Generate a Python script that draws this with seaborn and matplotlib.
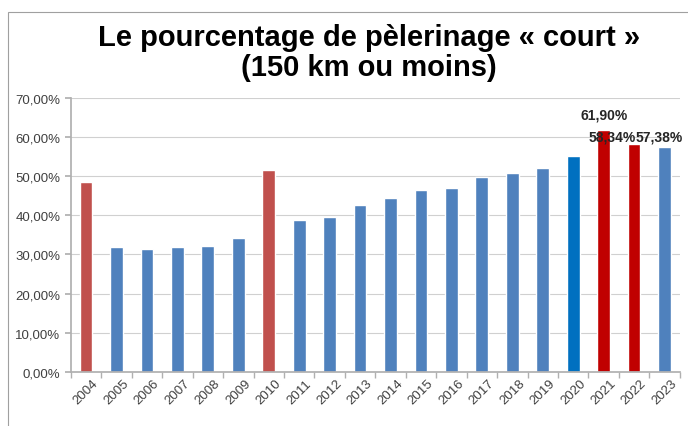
import matplotlib
matplotlib.use("Agg")
import matplotlib.pyplot as plt
import seaborn as sns
import pandas as pd
from matplotlib.ticker import FuncFormatter, MultipleLocator, FixedLocator

# data
years = [str(y) for y in range(2004, 2024)]
values = [48.6, 32.0, 31.5, 32.0, 32.2, 34.2, 51.5, 38.7, 39.7, 42.6,
          44.3, 46.4, 47.0, 49.8, 50.9, 52.0, 55.1, 61.90, 58.34, 57.38]
colors = ["#C0504D", "#4F81BD", "#4F81BD", "#4F81BD", "#4F81BD", "#4F81BD",
          "#C0504D", "#4F81BD", "#4F81BD", "#4F81BD", "#4F81BD", "#4F81BD",
          "#4F81BD", "#4F81BD", "#4F81BD", "#4F81BD", "#0070C0", "#C00000",
          "#C00000", "#4F81BD"]
labelled = {"2021": "61,90%", "2022": "58,34%", "2023": "57,38%"}

df = pd.DataFrame({"year": years, "pct": values})

sns.set_theme(style="white")
plt.rcParams["font.family"] = ["Liberation Sans", "DejaVu Sans"]

fig = plt.figure(figsize=(6.88, 4.27), dpi=100)
ax = fig.add_axes([0.103, 0.1265, 0.885, 0.642])

sns.barplot(data=df, x="year", y="pct", hue="year", palette=colors,
            legend=False, width=0.42, saturation=1, ax=ax)

ax.set_ylim(0, 70)
ax.set_xlim(-0.5, len(years) - 0.5)
ax.yaxis.set_major_locator(MultipleLocator(10))
ax.yaxis.set_major_formatter(FuncFormatter(lambda v, p: f"{v:.2f}%".replace(".", ",")))
ax.yaxis.grid(True, color="#d0d0d0", linewidth=0.8)
ax.set_axisbelow(True)
ax.set_xlabel("")
ax.set_ylabel("")

for s in ["top", "right"]:
    ax.spines[s].set_visible(False)
ax.spines["left"].set_color("#b0b0b0")
ax.spines["bottom"].set_color("#b0b0b0")

ax.tick_params(axis="y", labelsize=9.5, colors="#404040", length=4, color="#b0b0b0", left=True)
ax.tick_params(axis="x", labelsize=9.5, colors="#404040", length=0)
ax.xaxis.set_minor_locator(FixedLocator([i - 0.5 for i in range(len(years) + 1)]))
ax.tick_params(axis="x", which="minor", length=4, color="#b0b0b0", bottom=True)
for lab in ax.get_xticklabels():
    lab.set_rotation(45)
    lab.set_ha("center")

# data labels
offsets = {"2021": (0, 6), "2022": (-16, 0), "2023": (-4, 0)}
label_y = {"2021": 61.90, "2022": 58.34, "2023": 58.34}
for i, y in enumerate(years):
    if y in labelled:
        ax.annotate(labelled[y], (i, label_y[y]), xytext=offsets[y],
                    textcoords="offset points", ha="center", va="bottom",
                    fontsize=10, fontweight="bold", color="#262626")

fig.text(0.536, 0.876, "Le pourcentage de pèlerinage « court »\n(150 km ou moins)",
         ha="center", va="center", fontsize=21, fontweight="bold",
         linespacing=1.08, color="black")

# chart frame
fig.add_artist(plt.Rectangle((0.012, -0.01), 1.0, 0.98, transform=fig.transFigure,
                             fill=False, edgecolor="#a0a0a0", linewidth=0.8))

fig.savefig("out.png", dpi=100)
